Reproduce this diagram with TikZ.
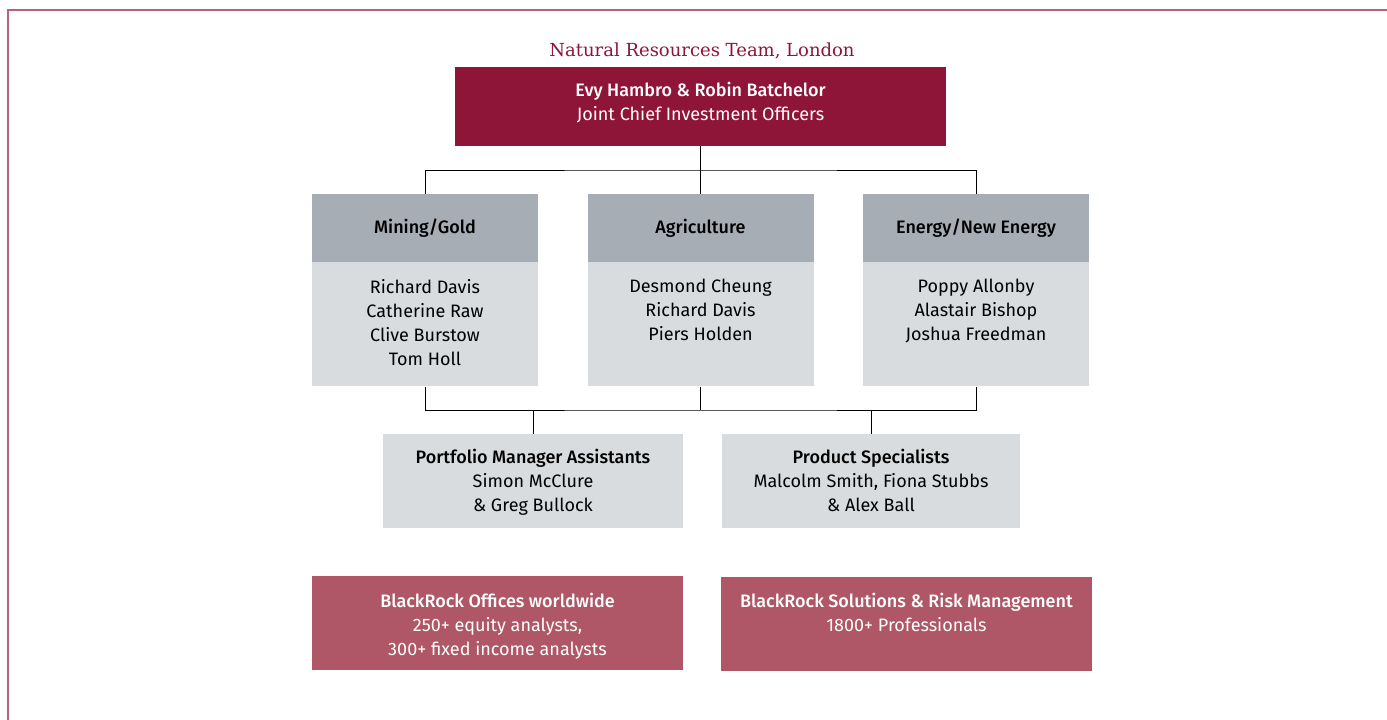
\documentclass[tikz,border=0pt]{standalone}
\usepackage{fontspec}
\setmainfont{Fira Sans}[BoldFont={Fira Sans Medium}]
\newfontfamily\titlefont{DejaVu Serif}
\usetikzlibrary{positioning}
\definecolor{frameline}{HTML}{B8607C}
\definecolor{wine}{HTML}{8E1538}
\definecolor{headgray}{HTML}{A6ADB4}
\definecolor{bodygray}{HTML}{D9DCDE}
\definecolor{rosebox}{HTML}{AF5766}
\begin{document}
\begin{tikzpicture}[x=1pt,y=-1pt]
					\tikzstyle{box}=[rectangle,inner sep=0pt,align=center,font=\fontsize{18}{24}\selectfont]
					\tikzstyle{chief}=[box,fill=wine,text=white,minimum width=491pt,minimum height=79pt]
					\tikzstyle{teamhead}=[box,fill=headgray,minimum width=226pt,minimum height=68pt,font=\fontsize{18}{24}\selectfont\bfseries]
					\tikzstyle{teambody}=[box,fill=bodygray,minimum width=226pt,minimum height=124pt,anchor=north]
					\tikzstyle{support}=[box,fill=bodygray,minimum height=94pt]
					\tikzstyle{global}=[box,fill=rosebox,minimum width=371pt,minimum height=94pt,anchor=north]
					\tikzstyle{names}=[box,anchor=north]
					\useasboundingbox (0,0) rectangle (1387,720);
					\draw[frameline,line width=1.5pt] (8,720) -- (8,10) -- (1387,10);
					\node (title) at (702,51) {\titlefont\fontsize{18}{20}\selectfont\color{wine}Natural Resources Team, London};
					\node (chief) [chief] at (700.5,106.5) {};
					\node (chiefN) [names,text=white,below=15pt of chief.north] {\textbf{Evy Hambro \& Robin Batchelor}\\Joint Chief Investment Officers};
					% the three teams
					\node (mineH) [teamhead] at (425,228) {Mining/Gold};
					\node (agriH) [teamhead] at (700.5,228) {Agriculture};
					\node (enerH) [teamhead] at (976,228) {Energy/New Energy};
					\node (mineB) [teambody] at (mineH.south) {};
					\node (agriB) [teambody] at (agriH.south) {};
					\node (enerB) [teambody] at (enerH.south) {};
					\node (mineN) [names,below=17pt of mineB.north] {Richard Davis\\Catherine Raw\\Clive Burstow\\Tom Holl};
					\node (agriN) [names,below=17pt of agriB.north] {Desmond Cheung\\Richard Davis\\Piers Holden};
					\node (enerN) [names,below=17pt of enerB.north] {Poppy Allonby\\Alastair Bishop\\Joshua Freedman};
					% support desks
					\node (pma) [support,minimum width=300pt] at (533,481) {};
					\node (spec) [support,minimum width=298pt] at (871,481) {};
					\node (pmaN) [names,below=15pt of pma.north] {\textbf{Portfolio Manager Assistants}\\Simon McClure\\\& Greg Bullock};
					\node (specN) [names,below=15pt of spec.north] {\textbf{Product Specialists}\\Malcolm Smith, Fiona Stubbs\\\& Alex Ball};
					\node (offices) [global] at (497.5,576) {};
					\node (solutions) [global] at (906.5,577) {};
					\node (officesN) [names,text=white,below=17pt of offices.north] {\textbf{BlackRock Offices worldwide}\\250+ equity analysts,\\300+ fixed income analysts};
					\node (solutionsN) [names,text=white,below=16pt of solutions.north] {\textbf{BlackRock Solutions \& Risk Management}\\1800+ Professionals};
					% connectors
					\coordinate (split) at (700.5,170);
					\coordinate (join) at (700.5,410);
					\draw[line width=1pt] (chief.south) -- (split);
					\draw[line width=1pt] (mineH.north) |- (split) -| (enerH.north);
					\draw[line width=1pt] (split) -- (agriH.north);
					\draw[line width=1pt] (mineB.south) |- (join) -| (enerB.south);
					\draw[line width=1pt] (agriB.south) -- (join);
					\draw[line width=1pt] (pma.north) -- (pma.north |- join);
					\draw[line width=1pt] (spec.north) -- (spec.north |- join);
				\end{tikzpicture}
\end{document}
